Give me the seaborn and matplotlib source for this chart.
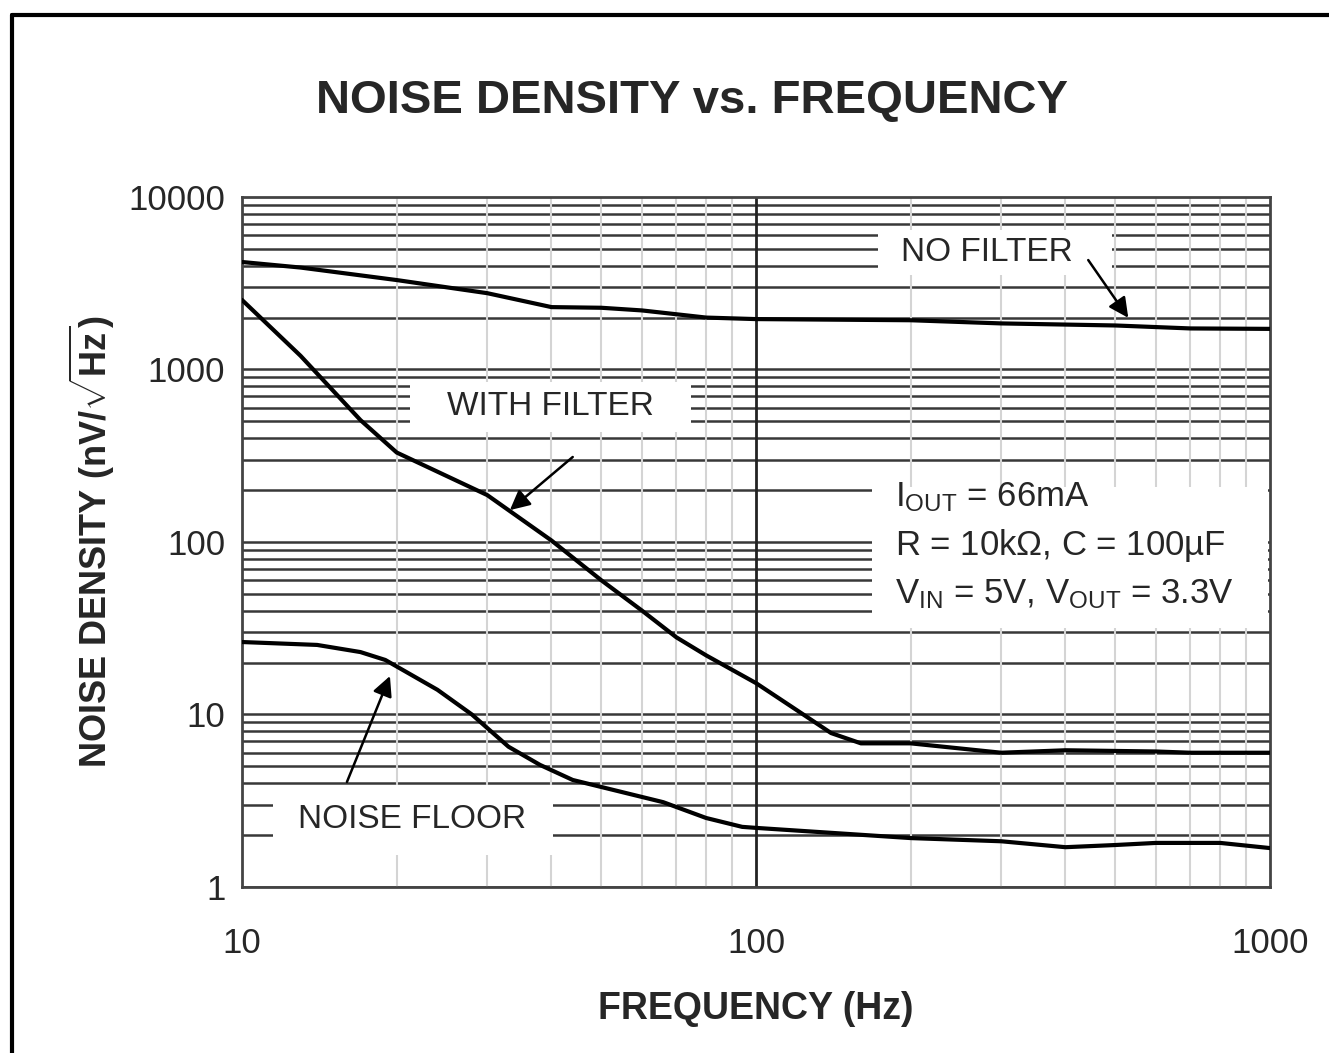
import numpy as np
import pandas as pd
import seaborn as sns
import matplotlib.pyplot as plt
from matplotlib.lines import Line2D
from matplotlib.patches import Rectangle

# values (Hz, nV/sqrt(Hz))
freq_nofilt = [10, 13, 20, 30, 40, 50, 60, 80, 100, 200, 300, 500, 700, 1000]
noise_nofilt = [4200, 3900, 3300, 2770, 2300, 2280, 2200, 2000, 1960, 1930, 1850, 1800, 1730, 1720]

freq_filt = [10, 13, 17, 20, 30, 40, 50, 60, 70, 80, 100, 120, 140, 160, 200, 300, 400, 600, 700, 1000]
noise_filt = [2530, 1200, 509, 330, 187, 102, 60, 40, 28, 22, 15.2, 10.6, 7.8, 6.8, 6.8, 6.0, 6.2, 6.1, 6.0, 6.0]

freq_floor = [10, 14, 17, 19, 24, 28, 33, 38, 44, 66, 80, 94, 100, 200, 300, 400, 500, 600, 800, 1000]
noise_floor = [26.3, 25.3, 23, 20.7, 13.9, 10, 6.5, 5.1, 4.17, 3.1, 2.51, 2.23, 2.2, 1.92, 1.84, 1.7, 1.75, 1.8, 1.8, 1.68]

sns.set_style("white")
plt.rcParams['font.family'] = ['Liberation Sans', 'DejaVu Sans']
plt.rcParams['mathtext.fontset'] = 'custom'
plt.rcParams['mathtext.rm'] = 'Liberation Sans'
plt.rcParams['mathtext.bf'] = 'Liberation Sans:bold'
plt.rcParams['mathtext.it'] = 'Liberation Sans:italic'

fig = plt.figure(figsize=(13.29, 10.53), dpi=100)
ax = fig.add_axes([0.1821, 0.1577, 0.7735, 0.6552])

for fx, ny in [(freq_nofilt, noise_nofilt), (freq_filt, noise_filt), (freq_floor, noise_floor)]:
    sns.lineplot(x=fx, y=ny, ax=ax, color='black', lw=3, zorder=5)

ax.set_xscale('log')
ax.set_yscale('log')
ax.set_xlim(10, 1000)
ax.set_ylim(1, 10000)

# grid: dark horizontals, light vertical minors, dark vertical majors
for dec in [1, 10, 100, 1000]:
    for m in range(1, 10):
        ax.axhline(dec * m, color='#383838', lw=1.8, zorder=1)
for dec in [10, 100]:
    for m in range(2, 10):
        ax.axvline(dec * m, color='#d4d4d4', lw=1.5, zorder=1)
ax.axvline(100, color='#222222', lw=2, zorder=1)

ax.set_xticks([10, 100, 1000])
ax.set_xticklabels(['10', '100', '1000'])
ax.set_yticks([1, 10, 100, 1000, 10000])
ax.set_yticklabels(['1', '10', '100', '1000', '10000'])
ax.minorticks_off()
ax.tick_params(length=0, labelsize=25)
ax.tick_params(axis='y', pad=12)
ax.tick_params(axis='x', pad=29)
for s in ax.spines.values():
    s.set_color('#444444')
    s.set_linewidth(2)

# white label boxes covering the grid
boxes = [(0.619, 0.887, 0.227, 0.065), (0.163, 0.659, 0.274, 0.073),
         (0.030, 0.046, 0.273, 0.102), (0.613, 0.375, 0.385, 0.205)]
for bx, by, bw, bh in boxes:
    ax.add_patch(Rectangle((bx, by), bw, bh, transform=ax.transAxes,
                           facecolor='white', edgecolor='none', zorder=2))

ax.text(0.725, 0.920, 'NO FILTER', transform=ax.transAxes, fontsize=24,
        ha='center', va='center', zorder=6)
ax.text(0.30, 0.696, 'WITH FILTER', transform=ax.transAxes, fontsize=24,
        ha='center', va='center', zorder=6)
ax.text(0.165, 0.098, 'NOISE FLOOR', transform=ax.transAxes, fontsize=24,
        ha='center', va='center', zorder=6)

cond = [r'I$_{\mathrm{OUT}}$ = 66mA',
        r'R = 10k$\Omega$, C = 100µF',
        r'V$_{\mathrm{IN}}$ = 5V, V$_{\mathrm{OUT}}$ = 3.3V']
for i, line in enumerate(cond):
    ax.text(0.635, 0.565 - i * 0.07, line, transform=ax.transAxes,
            fontsize=25, ha='left', va='center', zorder=6)

arrow = dict(arrowstyle='-|>', color='black', lw=1.8, mutation_scale=30,
             shrinkA=0, shrinkB=0)
ax.annotate('', xy=(530, 1993), xytext=(443, 4310), arrowprops=arrow, zorder=7)
ax.annotate('', xy=(33.2, 153), xytext=(44.0, 311), arrowprops=arrow, zorder=7)
ax.annotate('', xy=(19.4, 16.7), xytext=(16.0, 4.06), arrowprops=arrow, zorder=7)

ax.set_xlabel('FREQUENCY (Hz)', fontsize=27, fontweight='bold', labelpad=22)
ax.set_ylabel(r'NOISE DENSITY (nV/$\mathbf{\sqrt{Hz}}$)', fontsize=26,
              fontweight='bold', labelpad=8)
fig.text(0.521, 0.904, 'NOISE DENSITY vs. FREQUENCY', fontsize=34,
         fontweight='bold', ha='center', va='center')

# outer frame of the datasheet figure (top and left edges)
fig.add_artist(Line2D([12 / 1329, 1], [1 - 15 / 1053] * 2, color='black', lw=3))
fig.add_artist(Line2D([12 / 1329] * 2, [0, 1 - 15 / 1053], color='black', lw=3))

fig.savefig('out.png', dpi=100)
